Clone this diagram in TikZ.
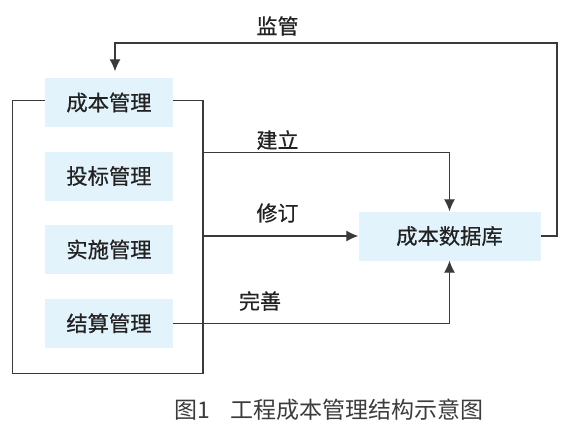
\documentclass[tikz,border=0pt]{standalone}
\usepackage{fontspec}
\setmainfont{Noto Sans CJK SC}
\newfontfamily\cjk{Noto Sans CJK SC}
\newfontfamily\cjkm[FakeBold=0.6]{Noto Sans CJK SC}
\usetikzlibrary{arrows.meta}
\definecolor{boxfill}{HTML}{E3F3FC}
\definecolor{linecol}{HTML}{3A3A3A}
\definecolor{txtcol}{HTML}{222222}
\definecolor{capcol}{HTML}{3C3C3C}
\begin{document}
\begin{tikzpicture}[x=1pt,y=-1pt,
  mgmt/.style={fill=boxfill, draw=none, minimum width=128pt, minimum height=49pt, inner sep=0pt,
    font=\cjkm\fontsize{21.3}{22}\selectfont, text=txtcol},
  dbbox/.style={fill=boxfill, draw=none, minimum width=182pt, minimum height=49pt, inner sep=0pt,
    font=\cjkm\fontsize{21.3}{22}\selectfont, text=txtcol},
  lbl/.style={font=\cjkm\fontsize{21}{22}\selectfont, text=txtcol, inner sep=0pt},
  conn/.style={draw=linecol, line width=1.1pt},
  arr/.style={conn, -{Latex[length=12pt,width=11pt]}}]
\useasboundingbox (0,0) rectangle (577,433);
\node[mgmt] (b1) at (109,102.5) {成本管理};
\node[mgmt] (b2) at (109,176) {投标管理};
\node[mgmt] (b3) at (109,249.5) {实施管理};
\node[mgmt] (b4) at (109,323.3) {结算管理};
\node[dbbox] (db) at (449.5,236) {成本数据库};

\coordinate (bl) at (12.7,373.3);
\coordinate (br) at (203,373.3);
\coordinate (t1) at (45,100.7);
\coordinate (t2) at (173,100.7);
\draw[conn] (t1) -| (bl) -- (br) |- (t2);

\coordinate (j1) at (203,152.7);
\coordinate (j2) at (203,236);
\draw[arr] (j1) -| (db.north);
\draw[arr] (j2) -- (db.west);
\draw[arr] (b4.east) -| (db.south);

\coordinate (m1) at (557,43);
\coordinate (m2) at (115,43);
\draw[arr, shorten >=6.5pt] (db.east) -| (m1) -- (m2) -- (m2 |- b1.north);

\node[lbl] (l1) at (277.5,26) {监管};
\node[lbl] (l2) at (277.5,140) {建立};
\node[lbl] (l3) at (277.5,213) {修订};
\node[lbl] (l4) at (260,301) {完善};

\node[font=\cjk\fontsize{23}{24}\selectfont, text=capcol, inner sep=0pt] (cap) at (329,410) {图1\hspace{0.9em}工程成本管理结构示意图};
\end{tikzpicture}
\end{document}
